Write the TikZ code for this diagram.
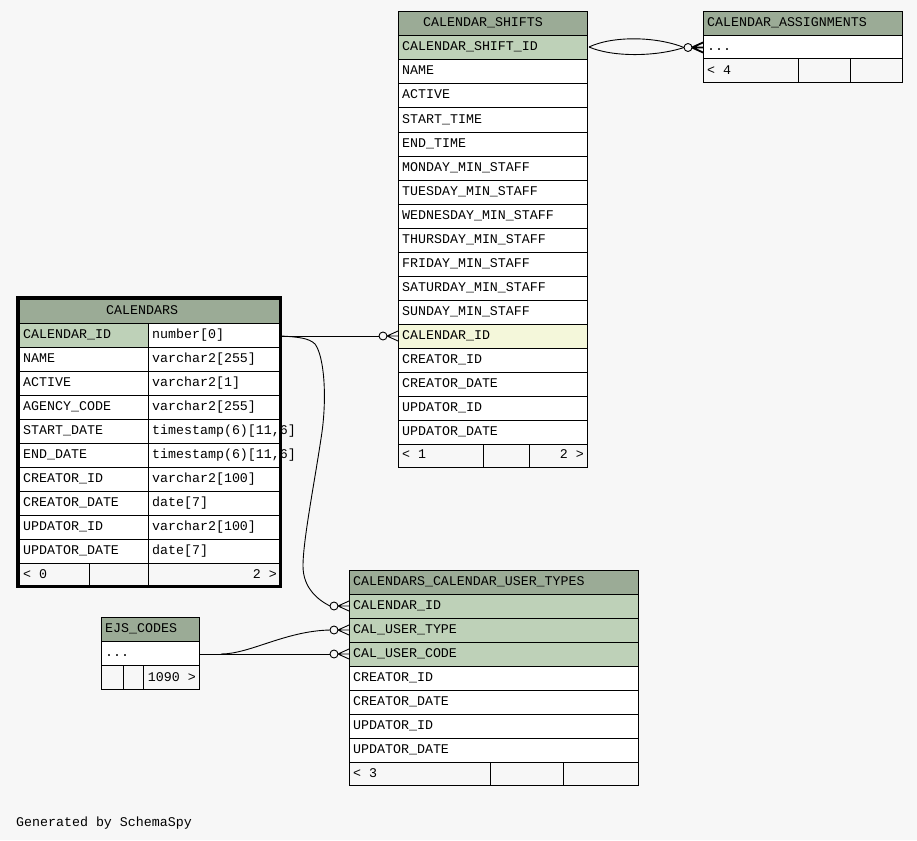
\documentclass[tikz,border=0pt]{standalone}
\usepackage{fontspec}
\newfontfamily\mono{Liberation Mono}
\definecolor{bg}{HTML}{F7F7F7}
\definecolor{hdr}{HTML}{9BAB96}
\definecolor{key}{HTML}{BED1B8}
\definecolor{idx}{HTML}{F4F7DA}
\tikzset{
  cell/.style={draw=black,line width=1pt,anchor=north west,inner sep=0pt,outer sep=0pt},
  hdrc/.style={fill=hdr},
  keyc/.style={fill=key},
  idxc/.style={fill=idx},
  plainc/.style={fill=white},
  footc/.style={fill=bg},
  txt/.style={font=\mono\fontsize{13.3}{15}\selectfont,inner sep=0pt,anchor=base west,text=black},
  rtxt/.style={txt,anchor=base east},
  conn/.style={draw=black,line width=0.9pt}
}
% row: name, x, y, width, style, text
\newcommand\trow[6]{%
  \node[cell,#5,minimum width=#4pt,minimum height=24pt] (#1) at (#2,#3) {};
  \node[txt] (#1-t) at ([xshift=4pt,yshift=-15pt]#1.north west) {#6};}
% footer cell: name, x, y, width, height
\newcommand\fcell[5]{%
  \node[cell,footc,minimum width=#4pt,minimum height=#5pt] (#1) at (#2,#3) {};}
% crow's foot with circle ending at a table edge point
\newcommand\crowfoot[2][]{%
  \draw[conn,#1] ([xshift=-11pt]#2) -- ([yshift=5pt]#2)
                 ([xshift=-11pt]#2) -- (#2)
                 ([xshift=-11pt]#2) -- ([yshift=-5pt]#2);
  \draw[conn,fill=bg] ([xshift=-15pt]#2) circle[radius=4pt];}
\begin{document}
\begin{tikzpicture}[x=1pt,y=-1pt]
\useasboundingbox[fill=bg] (0,0) rectangle (917,840);

% ---------------- CALENDAR_SHIFTS ----------------
\node[cell,hdrc,minimum width=189pt,minimum height=24pt] (cs-h) at (398,12) {};
\node[txt] (cs-h-t) at (423,27) {CALENDAR\_SHIFTS};
\trow{cs-id}{398}{36}{189}{keyc}{CALENDAR\_SHIFT\_ID}
\trow{cs-name}{398}{60}{189}{plainc}{NAME}
\trow{cs-active}{398}{84}{189}{plainc}{ACTIVE}
\trow{cs-start}{398}{108}{189}{plainc}{START\_TIME}
\trow{cs-end}{398}{132}{189}{plainc}{END\_TIME}
\trow{cs-mon}{398}{156}{189}{plainc}{MONDAY\_MIN\_STAFF}
\trow{cs-tue}{398}{180}{189}{plainc}{TUESDAY\_MIN\_STAFF}
\trow{cs-wed}{398}{204}{189}{plainc}{WEDNESDAY\_MIN\_STAFF}
\trow{cs-thu}{398}{228}{189}{plainc}{THURSDAY\_MIN\_STAFF}
\trow{cs-fri}{398}{252}{189}{plainc}{FRIDAY\_MIN\_STAFF}
\trow{cs-sat}{398}{276}{189}{plainc}{SATURDAY\_MIN\_STAFF}
\trow{cs-sun}{398}{300}{189}{plainc}{SUNDAY\_MIN\_STAFF}
\trow{cs-calid}{398}{324}{189}{idxc}{CALENDAR\_ID}
\trow{cs-creid}{398}{348}{189}{plainc}{CREATOR\_ID}
\trow{cs-credate}{398}{372}{189}{plainc}{CREATOR\_DATE}
\trow{cs-updid}{398}{396}{189}{plainc}{UPDATOR\_ID}
\trow{cs-upddate}{398}{420}{189}{plainc}{UPDATOR\_DATE}
\fcell{cs-f1}{398}{444}{85}{23}
\fcell{cs-f2}{483}{444}{46}{23}
\fcell{cs-f3}{529}{444}{58}{23}
\node[txt] (cs-f1-t) at (402,458) {< 1};
\node[rtxt] (cs-f3-t) at (584,458) {2 >};

% ---------------- CALENDAR_ASSIGNMENTS ----------------
\node[cell,hdrc,minimum width=199pt,minimum height=24pt] (ca-h) at (703,12) {};
\node[txt] (ca-h-t) at (707,27) {CALENDAR\_ASSIGNMENTS};
\node[cell,plainc,minimum width=199pt,minimum height=23pt] (ca-dots) at (703,36) {};
\node[txt] (ca-dots-t) at (707,51) {...};
\fcell{ca-f1}{703}{59}{95}{24}
\fcell{ca-f2}{798}{59}{52}{24}
\fcell{ca-f3}{850}{59}{52}{24}
\node[txt] (ca-f1-t) at (707,75) {< 4};

% ---------------- CALENDARS ----------------
\node[cell,hdrc,minimum width=260pt,minimum height=24pt] (cal-h) at (19,299) {};
\node[txt] (cal-h-t) at (106,314) {CALENDARS};
\trow{cal-id1}{19}{323}{129}{keyc}{CALENDAR\_ID}
\trow{cal-id2}{148}{323}{131}{plainc}{number[0]}
\trow{cal-name1}{19}{347}{129}{plainc}{NAME}
\trow{cal-name2}{148}{347}{131}{plainc}{varchar2[255]}
\trow{cal-act1}{19}{371}{129}{plainc}{ACTIVE}
\trow{cal-act2}{148}{371}{131}{plainc}{varchar2[1]}
\trow{cal-ag1}{19}{395}{129}{plainc}{AGENCY\_CODE}
\trow{cal-ag2}{148}{395}{131}{plainc}{varchar2[255]}
\trow{cal-sd1}{19}{419}{129}{plainc}{START\_DATE}
\trow{cal-sd2}{148}{419}{131}{plainc}{timestamp(6)[11,6]}
\trow{cal-ed1}{19}{443}{129}{plainc}{END\_DATE}
\trow{cal-ed2}{148}{443}{131}{plainc}{timestamp(6)[11,6]}
\trow{cal-ci1}{19}{467}{129}{plainc}{CREATOR\_ID}
\trow{cal-ci2}{148}{467}{131}{plainc}{varchar2[100]}
\trow{cal-cd1}{19}{491}{129}{plainc}{CREATOR\_DATE}
\trow{cal-cd2}{148}{491}{131}{plainc}{date[7]}
\trow{cal-ui1}{19}{515}{129}{plainc}{UPDATOR\_ID}
\trow{cal-ui2}{148}{515}{131}{plainc}{varchar2[100]}
\trow{cal-ud1}{19}{539}{129}{plainc}{UPDATOR\_DATE}
\trow{cal-ud2}{148}{539}{131}{plainc}{date[7]}
\fcell{cal-f1}{19}{563}{70}{23}
\fcell{cal-f2}{89}{563}{59}{23}
\fcell{cal-f3}{148}{563}{131}{23}
\node[txt] (cal-f1-t) at (23,578) {< 0};
\node[rtxt] (cal-f3-t) at (277,578) {2 >};
\node[draw=black,line width=3pt,anchor=north west,inner sep=0pt,outer sep=0pt,
      minimum width=263pt,minimum height=289pt] (calendars) at (17.5,297.5) {};

% ---------------- CALENDARS_CALENDAR_USER_TYPES ----------------
\node[cell,hdrc,minimum width=289pt,minimum height=24pt] (cc-h) at (349,570) {};
\node[txt] (cc-h-t) at (353,585) {CALENDARS\_CALENDAR\_USER\_TYPES};
\trow{cc-calid}{349}{594}{289}{keyc}{CALENDAR\_ID}
\trow{cc-type}{349}{618}{289}{keyc}{CAL\_USER\_TYPE}
\trow{cc-code}{349}{642}{289}{keyc}{CAL\_USER\_CODE}
\trow{cc-creid}{349}{666}{289}{plainc}{CREATOR\_ID}
\trow{cc-credate}{349}{690}{289}{plainc}{CREATOR\_DATE}
\trow{cc-updid}{349}{714}{289}{plainc}{UPDATOR\_ID}
\trow{cc-upddate}{349}{738}{289}{plainc}{UPDATOR\_DATE}
\fcell{cc-f1}{349}{762}{141}{23}
\fcell{cc-f2}{490}{762}{73}{23}
\fcell{cc-f3}{563}{762}{75}{23}
\node[txt] (cc-f1-t) at (353,777) {< 3};

% ---------------- EJS_CODES ----------------
\node[cell,hdrc,minimum width=98pt,minimum height=24pt] (ejs-h) at (101,617) {};
\node[txt] (ejs-h-t) at (105,632) {EJS\_CODES};
\trow{ejs-dots}{101}{641}{98}{plainc}{...}
\fcell{ejs-f1}{101}{665}{22}{24}
\fcell{ejs-f2}{123}{665}{20}{24}
\fcell{ejs-f3}{143}{665}{56}{24}
\node[rtxt] (ejs-f3-t) at (196,681) {1090 >};

% ---------------- footer text ----------------
\node[txt] (gen) at (16,826) {Generated by SchemaSpy};

% ---------------- connectors ----------------
\coordinate (cal-out) at ([xshift=2pt,yshift=-1pt]cal-id2.east);
% CALENDARS.CALENDAR_ID -> CALENDAR_SHIFTS.CALENDAR_ID
\draw[conn] (cal-out) -- ([xshift=-19pt]cs-calid.west);
\crowfoot{cs-calid.west}
% CALENDARS.CALENDAR_ID -> CALENDARS_CALENDAR_USER_TYPES.CALENDAR_ID
\draw[conn] (cal-out) .. controls (298,337) and (309,338) .. (315,344)
  .. controls (324,356) and (327,395) .. (322,432)
  .. controls (315,480) and (303,540) .. (303,566)
  .. controls (303,588) and (318,600) .. ([xshift=-19pt]cc-calid.west);
\crowfoot{cc-calid.west}
% EJS_CODES -> CAL_USER_CODE
\coordinate (ejs-out) at ([yshift=-1pt]ejs-dots.east);
\draw[conn] (ejs-out) -- ([xshift=-19pt]cc-code.west);
\crowfoot{cc-code.west}
% EJS_CODES -> CAL_USER_TYPE
\coordinate (ejs-split) at ([xshift=22pt]ejs-out);
\draw[conn] (ejs-split) .. controls (250,654) and (285,631) .. ([xshift=-19pt]cc-type.west);
\crowfoot{cc-type.west}
% CALENDAR_SHIFTS.CALENDAR_SHIFT_ID -> CALENDAR_ASSIGNMENTS
\coordinate (lens-l) at ([xshift=2pt,yshift=1pt]cs-id.east);
\coordinate (lens-r) at ([xshift=-19pt]ca-dots.west);
\draw[conn] (lens-l) .. controls (612,36) and (655,36) .. (lens-r);
\draw[conn] (lens-l) .. controls (612,57) and (655,57) .. (lens-r);
\crowfoot[line width=1.8pt]{ca-dots.west}
\end{tikzpicture}
\end{document}
